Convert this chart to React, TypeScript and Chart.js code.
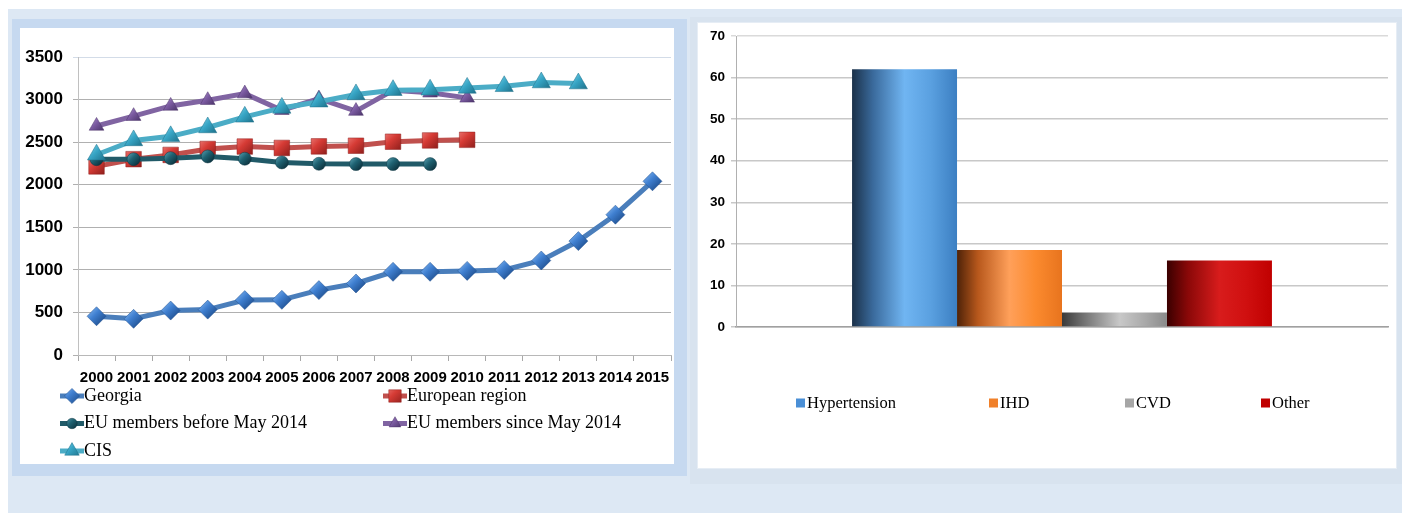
import React, { useEffect, useRef } from 'react';
import { Chart, registerables } from 'chart.js';
import { drawPoint } from 'chart.js/helpers';
Chart.register(...registerables);

// ---------- Data: left line chart ----------
const years = ['2000', '2001', '2002', '2003', '2004', '2005', '2006', '2007', '2008', '2009', '2010', '2011', '2012', '2013', '2014', '2015'];
const georgia = [455, 425, 522, 533, 645, 648, 762, 840, 977, 977, 988, 998, 1110, 1338, 1648, 2040];
const europeanRegion = [2215, 2300, 2350, 2420, 2448, 2432, 2450, 2458, 2505, 2520, 2527, null, null, null, null, null];
const euBefore2014 = [2300, 2300, 2312, 2332, 2305, 2262, 2246, 2242, 2242, 2242, null, null, null, null, null, null];
const euSince2014 = [2690, 2805, 2925, 2992, 3070, 2875, 3012, 2865, 3110, 3080, 3020, null, null, null, null, null];
const cis = [2352, 2520, 2568, 2672, 2797, 2902, 2975, 3060, 3110, 3115, 3137, 3156, 3200, 3188, null, null];
const lineSeriesNames = ['Georgia', 'European region', 'EU members before May 2014', 'EU members since May 2014', 'CIS'];
const yTicksLeft = { min: 0, max: 3500, step: 500 };

// ---------- Data: right bar chart ----------
const barNames = ['Hypertension', 'IHD', 'CVD', 'Other'];
const barValues = [62, 18.5, 3.5, 16];
const yTicksRight = { min: 0, max: 70, step: 10 };

// ---------- Styles ----------
const lineStyles = [
  { color: '#4a7ebb', marker: 'rectRot', r: 9.5, shade: ['#8fc0f5', '#3f7fd0', '#1f4f8f'], order: 4 },
  { color: '#c0504d', marker: 'rect', r: 11, shade: ['#f08a86', '#d63b35', '#8f1f1c'], order: 3 },
  { color: '#215a68', marker: 'circle', r: 6.5, shade: ['#5fa5b5', '#1f6272', '#0d3440'], order: 2 },
  { color: '#8064a2', marker: 'triangle', r: 8.5, shade: ['#b59bd6', '#7a5aa0', '#4a3368'], order: 1 },
  { color: '#4bacc6', marker: 'triangle', r: 10.5, shade: ['#8fdcf0', '#37a5c5', '#1d6f88'], order: 0 },
];
const barStyles = [
  { solid: '#4a8fd6', stops: [[0, '#1b3149'], [0.2, '#3a6a9c'], [0.5, '#70b5f2'], [0.75, '#5aa0e0'], [1, '#3c7fc2']] },
  { solid: '#f0802a', stops: [[0, '#4e2208'], [0.2, '#b8581c'], [0.5, '#ffa05a'], [0.75, '#fb8a2e'], [1, '#e8741e']] },
  { solid: '#a6a6a6', stops: [[0, '#3a3a3a'], [0.2, '#707070'], [0.55, '#c8c8c8'], [0.8, '#a8a8a8'], [1, '#8a8a8a']] },
  { solid: '#c00000', stops: [[0, '#3a0000'], [0.2, '#8a0808'], [0.5, '#d81c1c'], [0.75, '#d01010'], [1, '#c00000']] },
];
const BAR_CAT_PCT = 0.644;
const sansBold = (size: number) => ({ family: '"Liberation Sans", Arial, sans-serif', size, weight: 'bold' as const });
const ok = (...v: number[]) => v.every((n) => Number.isFinite(n));

function pointShade(i: number) {
  return (ctx: any) => {
    const chart = ctx.chart;
    const st = lineStyles[i];
    const xs = chart.scales?.x, ys = chart.scales?.y;
    if (!xs || !ys || ctx.raw == null) return st.shade[1];
    const x = xs.getPixelForValue(ctx.dataIndex);
    const y = ys.getPixelForValue(ctx.raw);
    if (!ok(x, y)) return st.shade[1];
    const r = st.r;
    const g = chart.ctx.createLinearGradient(x - r, y - r, x + r * 0.7, y + r * 0.7);
    g.addColorStop(0, st.shade[0]);
    g.addColorStop(0.5, st.shade[1]);
    g.addColorStop(1, st.shade[2]);
    return g;
  };
}

const leftLegendPlugin = {
  id: 'leftLegend',
  afterDraw(chart: any) {
    const ctx = chart.ctx;
    const colX = [40, 363];
    const rowY0 = 368;
    const rowH = 27.5;
    chart.data.datasets.forEach((ds: any, i: number) => {
      const st = lineStyles[i];
      const x = colX[i % 2];
      const y = rowY0 + Math.floor(i / 2) * rowH;
      ctx.save();
      ctx.strokeStyle = st.color;
      ctx.lineWidth = 5;
      ctx.beginPath();
      ctx.moveTo(x, y);
      ctx.lineTo(x + 24, y);
      ctx.stroke();
      const g = ctx.createLinearGradient(x + 12 - st.r, y - st.r, x + 12 + st.r * 0.7, y + st.r * 0.7);
      g.addColorStop(0, st.shade[0]);
      g.addColorStop(0.5, st.shade[1]);
      g.addColorStop(1, st.shade[2]);
      ctx.fillStyle = g;
      ctx.strokeStyle = st.shade[2];
      ctx.lineWidth = 0.5;
      drawPoint(ctx, { pointStyle: st.marker, radius: st.r * 0.8, rotation: 0, borderWidth: 0.5 } as any, x + 12, y);
      ctx.fillStyle = '#000';
      ctx.font = '18px "Liberation Serif", "Times New Roman", serif';
      ctx.textBaseline = 'middle';
      ctx.textAlign = 'left';
      ctx.fillText(ds.label, x + 24, y);
      ctx.restore();
    });
  },
};

const rightLegendPlugin = {
  id: 'rightLegend',
  afterDraw(chart: any) {
    const ctx = chart.ctx;
    const xs = [99, 292, 428, 564];
    const y = 381;
    chart.data.datasets.forEach((ds: any, i: number) => {
      ctx.save();
      ctx.fillStyle = barStyles[i].solid;
      ctx.fillRect(xs[i], y - 4.5, 9, 9);
      ctx.fillStyle = '#000';
      ctx.font = '16.5px "Liberation Serif", "Times New Roman", serif';
      ctx.textBaseline = 'middle';
      ctx.textAlign = 'left';
      ctx.fillText(ds.label, xs[i] + 11, y + 1);
      ctx.restore();
    });
  },
};

function LineChart() {
  const ref = useRef<HTMLCanvasElement>(null);
  useEffect(() => {
    const series = [georgia, europeanRegion, euBefore2014, euSince2014, cis];
    const chart = new Chart(ref.current!, {
      type: 'line',
      data: {
        labels: years,
        datasets: series.map((d, i) => ({
          label: lineSeriesNames[i],
          data: d,
          borderColor: lineStyles[i].color,
          borderWidth: 5,
          pointStyle: lineStyles[i].marker as any,
          pointRadius: lineStyles[i].r,
          pointBackgroundColor: pointShade(i),
          pointBorderColor: lineStyles[i].shade[2],
          pointBorderWidth: 0.5,
          tension: 0,
          spanGaps: false,
          order: lineStyles[i].order,
        })),
      },
      options: {
        animation: false,
        responsive: false,
        layout: { autoPadding: false, padding: { top: 29, right: 3, bottom: 0, left: 0 } },
        plugins: { legend: { display: false }, tooltip: { enabled: false } },
        scales: {
          x: {
            offset: true,
            afterFit: (s: any) => { s.height = 109; s.paddingLeft = 0; s.paddingRight = 0; },
            grid: { offset: true, drawOnChartArea: false, tickLength: 6, color: '#a8a8a8' },
            border: { color: '#b8b8b8' },
            ticks: { color: '#000', font: sansBold(15), padding: 8, maxRotation: 0, autoSkip: false },
          },
          y: {
            min: yTicksLeft.min,
            max: yTicksLeft.max,
            afterFit: (s: any) => { s.width = 58; },
            grid: { color: (c: any) => (c.tick && c.tick.value === yTicksLeft.max ? '#d3dce8' : '#b0b0b0'), tickLength: 5 },
            border: { color: '#c0c0c0' },
            ticks: { stepSize: yTicksLeft.step, color: '#000', font: sansBold(17), padding: 10, callback: (v: any) => String(v) },
          },
        },
      },
      plugins: [leftLegendPlugin],
    });
    return () => chart.destroy();
  }, []);
  return <canvas ref={ref} width={654} height={436} style={{ position: 'absolute', left: 20, top: 28 }} />;
}

function BarChart() {
  const ref = useRef<HTMLCanvasElement>(null);
  useEffect(() => {
    const grad = (i: number) => (ctx: any) => {
      const chart = ctx.chart;
      const xs = chart.scales?.x;
      if (!xs || !chart.chartArea) return barStyles[i].solid;
      const center = xs.getPixelForValue(0);
      const catW = xs.width * BAR_CAT_PCT;
      const bw = catW / barNames.length;
      const left = center - catW / 2 + i * bw;
      if (!ok(left, bw) || bw <= 0) return barStyles[i].solid;
      const g = chart.ctx.createLinearGradient(left, 0, left + bw, 0);
      barStyles[i].stops.forEach(([p, c]) => g.addColorStop(p as number, c as string));
      return g;
    };
    const chart = new Chart(ref.current!, {
      type: 'bar',
      data: {
        labels: [''],
        datasets: barNames.map((n, i) => ({
          label: n,
          data: [barValues[i]],
          backgroundColor: grad(i),
          borderWidth: 0,
          barPercentage: 1,
          categoryPercentage: BAR_CAT_PCT,
        })),
      },
      options: {
        animation: false,
        responsive: false,
        layout: { autoPadding: false, padding: { top: 11, right: 9, bottom: 0, left: 0 } },
        plugins: { legend: { display: false }, tooltip: { enabled: false } },
        scales: {
          x: {
            afterFit: (s: any) => { s.height = 142; },
            grid: { display: false },
            border: { color: '#a0a0a0', width: 1.5 },
            ticks: { display: false },
          },
          y: {
            min: yTicksRight.min,
            max: yTicksRight.max,
            afterFit: (s: any) => { s.width = 39; },
            grid: { color: (c: any) => (c.tick && c.tick.value === yTicksRight.max ? '#dadada' : '#c8c8c8'), lineWidth: 1.5, tickLength: 5 },
            border: { color: '#b0b0b0' },
            ticks: { stepSize: yTicksRight.step, color: '#000', font: sansBold(13.5), padding: 6 },
          },
        },
      },
      plugins: [rightLegendPlugin],
    });
    return () => chart.destroy();
  }, []);
  return <canvas ref={ref} width={700} height={447} style={{ position: 'absolute', left: 697, top: 22 }} />;
}

export default function App() {
  return (
    <div style={{ position: 'absolute', left: 0, top: 0, width: 1402, height: 513, background: '#ffffff', overflow: 'hidden' }}>
      <div style={{ position: 'absolute', left: 8, top: 9, width: 1394, height: 504, background: '#dde8f4' }} />
      <div style={{ position: 'absolute', left: 12, top: 19, width: 675, height: 457, background: '#c6d9f0' }} />
      <div style={{ position: 'absolute', left: 20, top: 28, width: 654, height: 436, background: '#ffffff' }} />
      <div style={{ position: 'absolute', left: 690, top: 17, width: 712, height: 467, background: '#d8e3ef' }} />
      <div style={{ position: 'absolute', left: 697, top: 22, width: 698, height: 445, background: '#ffffff', border: '1px solid #e6edf5' }} />
      <LineChart />
      <BarChart />
    </div>
  );
}
